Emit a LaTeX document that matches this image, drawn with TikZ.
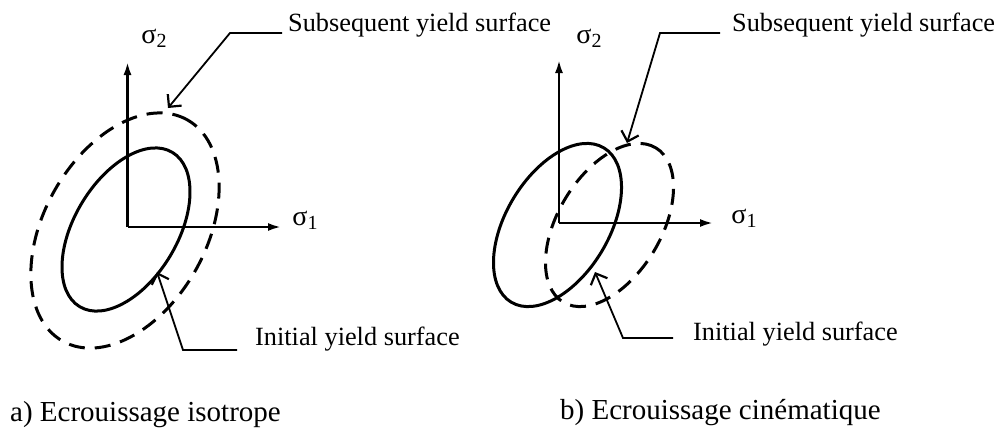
\documentclass[tikz,border=0pt]{standalone}
\usepackage{fontspec}
\setmainfont{Liberation Serif}
\usetikzlibrary{arrows.meta}
\newcommand\sigsub[1]{\raisebox{-0.3ex}{\fontsize{20}{24}\selectfont #1}}
\begin{document}
\begin{tikzpicture}[x=1pt,y=-1pt,
  axis/.style={line width=2.3pt,-{Latex[length=13pt,width=8pt]}},
  initc/.style={line width=3pt},
  subc/.style={line width=3pt,dash pattern=on 16pt off 10pt},
  leader/.style={line width=1.8pt,{Straight Barb[length=9pt,width=18pt,line width=2.2pt]}-},
  lbl/.style={font=\fontsize{26.3}{30}\selectfont, inner sep=0pt, anchor=west},
  captxt/.style={font=\fontsize{29}{34}\selectfont, inner sep=0pt, anchor=west},
  sig/.style={font=\fontsize{28}{32}\selectfont, inner sep=0pt},
]
\useasboundingbox (0,0) rectangle (1000,432);

% ---------- left panel: isotropic hardening ----------
\coordinate (O1) at (127.5,227);
\coordinate (Y1) at (127.5,62);
\coordinate (X1) at (281,227);
\draw[axis] (O1) -- (Y1);
\draw[axis] (O1) -- (X1);
\node[sig] (s2a) at (154,38) {σ\sigsub{2}};
\node[sig] (s1a) at (305,220) {σ\sigsub{1}};

\coordinate (C1) at (126,229.5);
\draw[initc, rotate around={59:(C1)}] (C1) ellipse [x radius=90pt, y radius=51.5pt];
\coordinate (D1) at (125,230.5);
\draw[subc, rotate around={60.6:(D1)}] (D1) ellipse [x radius=127pt, y radius=81pt];

\node[lbl] (suba) at (288,25) {Subsequent yield surface};
\coordinate (ts1) at (168,108);
\coordinate (ks1) at (230,33);
\draw[leader] (ts1) -- (ks1) -- ([xshift=-6pt]suba.west |- ks1);

\node[lbl] (inia) at (255,339) {Initial yield surface};
\coordinate (ti1) at (157,272);
\coordinate (ki1) at (183,350);
\draw[leader] (ti1) -- (ki1) -- ([xshift=-18pt]inia.west |- ki1);

\node[captxt] (capa) at (10,415) {a) Ecrouissage isotrope};

% ---------- right panel: kinematic hardening ----------
\coordinate (O2) at (559,223);
\coordinate (Y2) at (559,60);
\coordinate (X2) at (713,223);
\draw[axis] (O2) -- (Y2);
\draw[axis] (O2) -- (X2);
\node[sig] (s2b) at (589,38) {σ\sigsub{2}};
\node[sig] (s1b) at (744,218) {σ\sigsub{1}};

\coordinate (C2) at (557.5,225);
\draw[initc, rotate around={59:(C2)}] (C2) ellipse [x radius=90pt, y radius=51.5pt];
\coordinate (D2) at (609.5,225);
\draw[subc, rotate around={59:(D2)}] (D2) ellipse [x radius=90pt, y radius=51.5pt];

\node[lbl] (subb) at (732,25) {Subsequent yield surface};
\coordinate (ts2) at (627,143);
\coordinate (ks2) at (660,33);
\draw[leader] (ts2) -- (ks2) -- ([xshift=-12pt]subb.west |- ks2);

\node[lbl] (inib) at (693,334) {Initial yield surface};
\coordinate (ti2) at (595,272);
\coordinate (ki2) at (623,338);
\draw[leader] (ti2) -- (ki2) -- ([xshift=-20pt]inib.west |- ki2);

\node[captxt] (capb) at (560,413) {b) Ecrouissage cinématique};
\end{tikzpicture}
\end{document}
